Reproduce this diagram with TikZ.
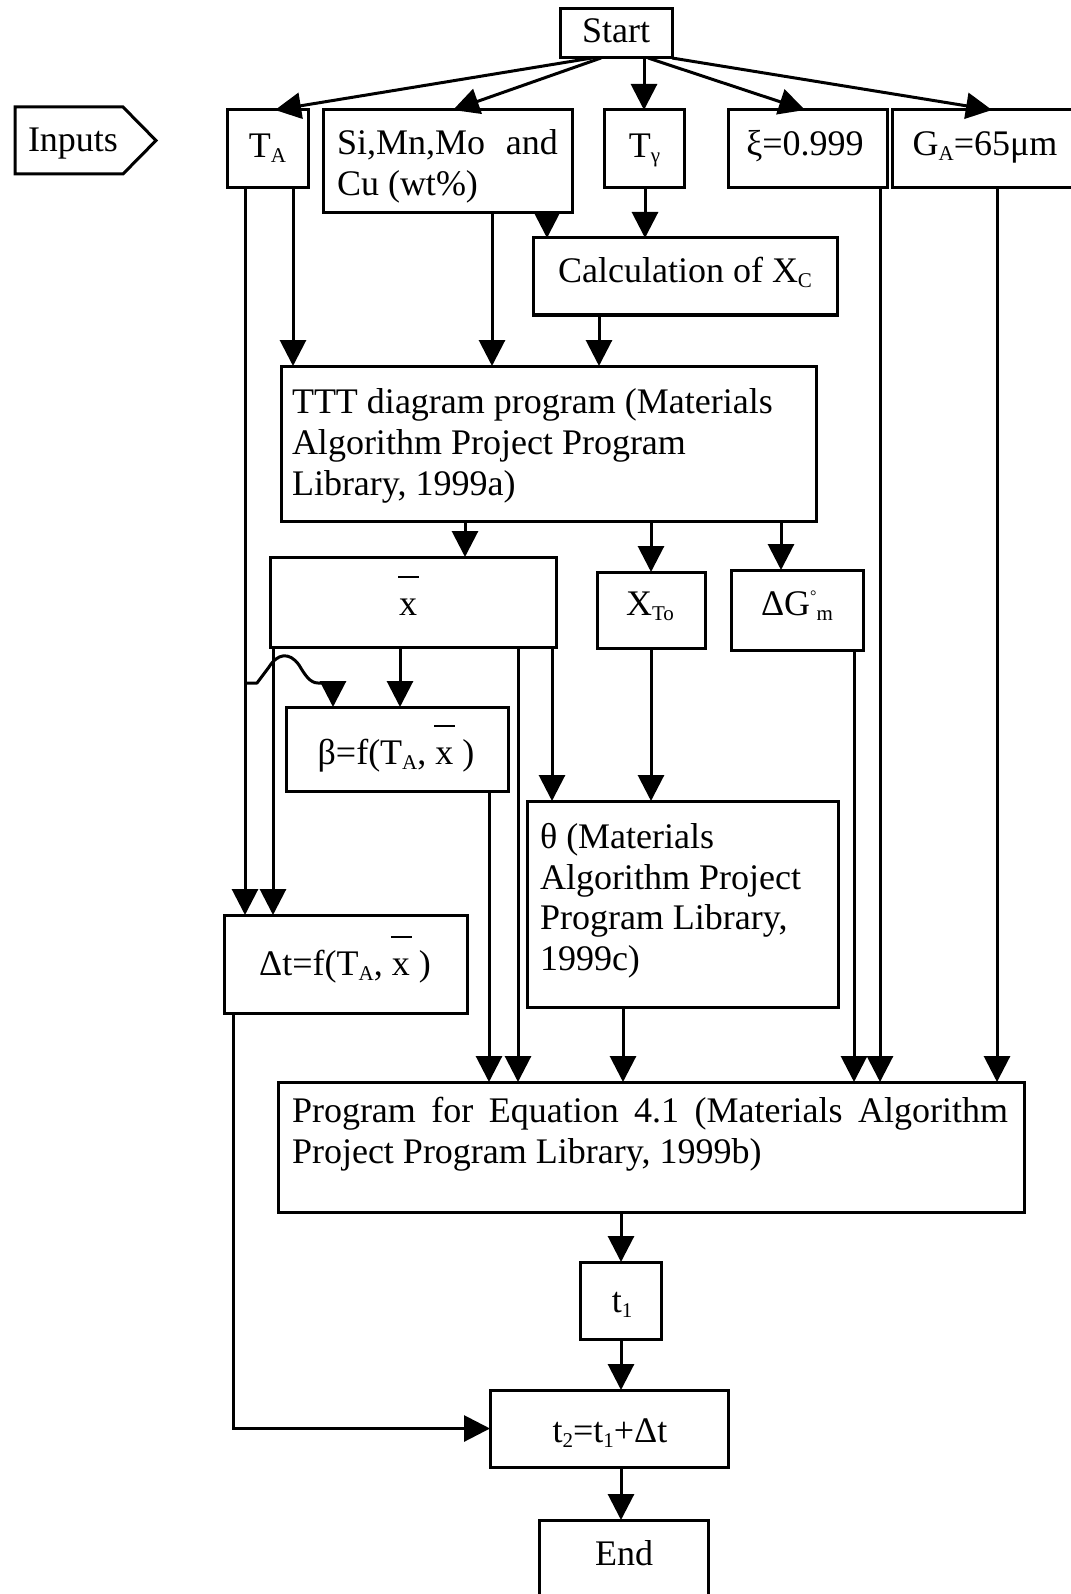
\documentclass[tikz,border=0pt]{standalone}
\usepackage{fontspec}
\setmainfont{Liberation Serif}
\usetikzlibrary{arrows.meta,calc}
\newcommand\lsub[1]{\raisebox{-5pt}{\fontsize{21}{21}\selectfont #1}}
\newcommand\xb{\makebox[0pt][l]{\hspace{-1pt}\raisebox{37pt}{\rule{21pt}{2.5pt}}}x}
\newcommand\bx[5]{\node[blk, minimum width={(#4)-(#2)}, minimum height={(#5)-(#3)}] (#1) at ({((#2)+(#4))/2},{((#3)+(#5))/2}) {};}
\newcommand\vdown[3]{\draw[arr] ([xshift=#3]#1.south west) -- ([xshift=#3]#1.south west |- #2.north);}
\begin{document}
\begin{tikzpicture}[x=1pt,y=-1pt,
  font=\fontsize{36}{41}\selectfont,
  blk/.style={draw, line width=3pt, inner sep=0pt, outer sep=0pt},
  txt/.style={inner sep=0pt, outer sep=0pt, anchor=base},
  ltxt/.style={inner sep=0pt, outer sep=0pt, anchor=base west},
  arr/.style={line width=3pt, -{Triangle[length=26pt,width=26pt]}},
  wire/.style={line width=3pt}]
\fill[white] (0,0) rectangle (1070,1594);
\useasboundingbox (0,0) rectangle (1070,1594);

% boxes
\bx{start}{560}{9}{672}{58}
\bx{ta}{227}{110}{308}{188}
\bx{si}{323}{110}{572}{213}
\bx{tg}{604}{110}{684}{188}
\bx{xi}{728}{110}{887}{188}
\bx{ga}{892}{110}{1080}{188}
\bx{calc}{533}{238}{837}{315}
\bx{ttt}{281}{366}{816}{521}
\bx{xbar}{270}{557}{556}{647}
\bx{xto}{597}{572}{705}{648}
\bx{dg}{731}{570}{863}{650}
\bx{beta}{286}{707}{508}{791}
\bx{theta}{527}{801}{838}{1007}
\bx{dt}{224}{915}{467}{1013}
\bx{prog}{278}{1082}{1024}{1212}
\bx{tone}{580}{1262}{661}{1339}
\bx{ttwo}{490}{1390}{728}{1467}
\bx{fin}{539}{1520}{708}{1604}

% inputs tag
\draw[wire, line join=miter] (15,107) -- (123,107) -- (156,140.5) -- (123,174) -- (15,174) -- cycle;
\node[txt] (inputs) at (73,152) {Inputs};

% texts
\node[txt] (startT) at (616,43) {Start};
\node[txt] (taT) at (267.5,158) {T\lsub{A}};
\node[ltxt] (siT1) at (337,155) {\makebox[221pt][s]{Si,Mn,Mo and}};
\node[ltxt] (siT2) at (337,196) {Cu (wt\%)};
\node[txt] (tgT) at (644.5,158) {T\lsub{γ}};
\node[txt] (xiT) at (805,156) {ξ=0.999};
\node[txt] (gaT) at (985,156) {G\lsub{A}=65μm};
\node[txt] (calcT) at (685,283) {Calculation of X\lsub{C}};
\node[ltxt] (tttT1) at (292,413) {TTT diagram program (Materials};
\node[ltxt] (tttT2) at (292,454) {Algorithm Project Program};
\node[ltxt] (tttT3) at (292,495) {Library, 1999a)};
\node[txt] (xbarT) at (408,615) {\xb};
\node[txt] (xtoT) at (650,615) {X\lsub{To}};
\node[txt] (dgT) at (797,615) {ΔG\raisebox{14pt}{\fontsize{16}{16}\selectfont °}\lsub{m}};
\node[txt] (betaT) at (396,764) {β=f(T\lsub{A}, \xb\ )};
\node[ltxt] (thT1) at (540,848) {θ (Materials};
\node[ltxt] (thT2) at (540,889) {Algorithm Project};
\node[ltxt] (thT3) at (540,929) {Program Library,};
\node[ltxt] (thT4) at (540,970) {1999c)};
\node[txt] (dtT) at (345,975) {Δt=f(T\lsub{A}, \xb\ )};
\node[ltxt] (progT1) at (292,1122) {\makebox[716pt][s]{Program for Equation 4.1 (Materials Algorithm}};
\node[ltxt] (progT2) at (292,1163) {Project Program Library, 1999b)};
\node[txt] (toneT) at (622,1312) {t\lsub{1}};
\node[txt] (ttwoT) at (610,1442) {t\lsub{2}=t\lsub{1}+Δt};
\node[txt] (finT) at (624,1565) {End};

% connectors from start
\draw[arr] ([xshift=32pt]start.south west) -- ([xshift=48pt]ta.north west);
\draw[arr] ([xshift=41pt]start.south west) -- ([xshift=130pt]si.north west);
\vdown{start}{tg}{84pt}
\draw[arr] ([xshift=88pt]start.south west) -- ([xshift=77pt]xi.north west);
\draw[arr] (start.south east) -- ([xshift=100pt]ga.north west);

% vertical connectors
\vdown{ta}{dt}{18pt}
\vdown{ta}{ttt}{66pt}
\vdown{si}{ttt}{169pt}
\vdown{si}{calc}{224pt}
\vdown{tg}{calc}{41pt}
\vdown{calc}{ttt}{66pt}
\vdown{xi}{prog}{152pt}
\vdown{ga}{prog}{105pt}
\vdown{ttt}{xbar}{184pt}
\vdown{ttt}{xto}{370pt}
\vdown{ttt}{dg}{500pt}
\vdown{xbar}{beta}{130pt}
\vdown{xbar}{prog}{248pt}
\vdown{xbar}{theta}{282pt}
\vdown{xbar}{dt}{3pt}
\vdown{xto}{theta}{54pt}
\vdown{dg}{prog}{123pt}
\vdown{beta}{prog}{203pt}
\vdown{theta}{prog}{96pt}
\vdown{prog}{tone}{343pt}
\vdown{tone}{ttwo}{41pt}
\vdown{ttwo}{fin}{131pt}

% hop connector from T_A line to beta
\coordinate (hs) at (245,683);
\coordinate (he) at (333,683);
\draw[wire, line join=round] (hs) -- (257,683) -- (269,667) .. controls (277,654) and (289,651) .. (299,665) .. controls (305,675) and (310,683) .. (318,683) -- (he);
\draw[arr] (he) -- (he |- beta.north);

% delta t to t2
\draw[arr] ([xshift=9pt]dt.south west) |- (ttwo.west);
\end{tikzpicture}
\end{document}
